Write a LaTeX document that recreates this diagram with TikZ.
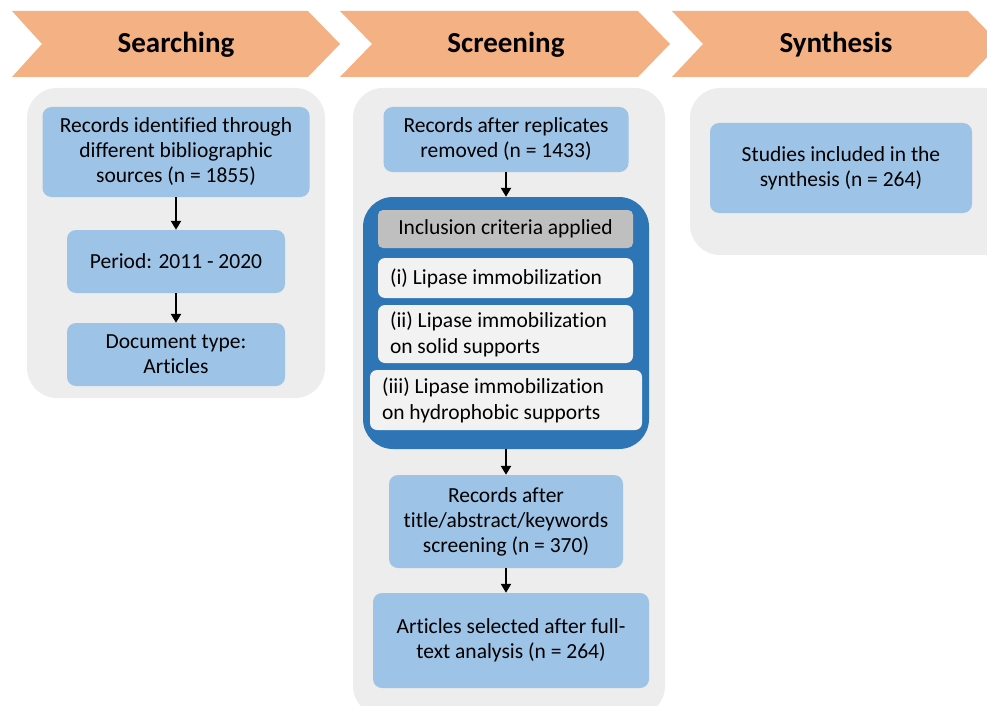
\documentclass[tikz,border=0pt]{standalone}
\usepackage{fontspec}
\setmainfont{Carlito}[Ligatures=NoCommon]
\usetikzlibrary{arrows.meta}
\definecolor{chev}{HTML}{F4B183}
\definecolor{panel}{HTML}{EDEDED}
\definecolor{lblue}{HTML}{9DC3E6}
\definecolor{dblue}{HTML}{2E75B6}
\definecolor{hgray}{HTML}{BFBFBF}
\definecolor{crit}{HTML}{F2F2F2}
\tikzset{
  chevron/.style={fill=chev, draw=none},
  paneltitle/.style={font=\fontsize{29}{31}\selectfont\bfseries, text=black},
  panelbg/.style={fill=panel, draw=none, rounded corners=30pt},
  bluebox/.style={fill=lblue, draw=none, rounded corners=9pt, align=center,
    font=\fontsize{21.5}{25}\selectfont, inner sep=0pt},
  critbox/.style={fill=crit, draw=none, rounded corners=7pt, align=flush left,
    font=\fontsize{21.5}{26}\selectfont, inner xsep=12pt, inner ysep=0pt},
  headbox/.style={fill=hgray, draw=none, rounded corners=5pt, align=center,
    font=\fontsize{21.5}{25}\selectfont, inner sep=0pt},
  darkbox/.style={fill=dblue, draw=none, rounded corners=30pt, inner sep=0pt},
  flow/.style={-{Triangle[length=9pt,width=10pt]}, line width=2.2pt, black}
}
\begin{document}
\begin{tikzpicture}[x=1pt,y=-1pt]
\useasboundingbox (0,0) rectangle (987,706);
\begin{scope}
\clip (0,0) rectangle (987,706);
% chevrons
\fill[chevron] (12,11) -- (308,11) -- (340,44) -- (308,77) -- (12,77) -- (42,44) -- cycle;
\fill[chevron] (340,11) -- (638,11) -- (670,44) -- (638,77) -- (340,77) -- (372,44) -- cycle;
\fill[chevron] (672,11) -- (968,11) -- (1000,44) -- (968,77) -- (672,77) -- (703,44) -- cycle;
% panels
\fill[panelbg] (27,88) rectangle (325,398);
\fill[panelbg] (353,88) rectangle (665,716);
\fill[panelbg] (690,88) rectangle (1020,255);
\end{scope}
\node[paneltitle] (t1) at (176,45) {Searching};
\node[paneltitle] (t2) at (506,45) {Screening};
\node[paneltitle] (t3) at (836,45) {Synthesis};
% Searching column
\node[bluebox, minimum width=267pt, minimum height=90pt] (s1) at (176,152)
  {Records identified through\\different bibliographic\\sources (n = 1855)};
\node[bluebox, minimum width=218pt, minimum height=63pt] (s2) at (176,261.5)
  {Period: 2011 - 2020};
\node[bluebox, minimum width=218pt, minimum height=63pt] (s3) at (176,354.5)
  {Document type:\\Articles};
\draw[flow] (s1.south) -- (s2.north);
\draw[flow] (s2.south) -- (s3.north);
% Screening column
\node[bluebox, minimum width=245pt, minimum height=65pt] (r1) at (506,139.5)
  {Records after replicates\\removed (n = 1433)};
\node[darkbox, minimum width=286pt, minimum height=252pt] (dk) at (506,323) {};
\node[headbox, minimum width=255pt, minimum height=38pt] (hd) at (505.5,229)
  {Inclusion criteria applied};
\node[critbox, text width=231pt, minimum height=40pt] (c1) at (505.5,278)
  {(i) Lipase immobilization};
\node[critbox, text width=231pt, minimum height=58pt] (c2) at (505.5,334)
  {(ii) Lipase immobilization\\on solid supports};
\node[critbox, text width=248pt, minimum height=60pt] (c3) at (506,400)
  {(iii) Lipase immobilization\\on hydrophobic supports};
\node[bluebox, minimum width=234pt, minimum height=93pt] (r2) at (506,521.5)
  {Records after\\title/abstract/keywords\\screening (n = 370)};
\node[bluebox, minimum width=276pt, minimum height=95pt] (r3) at (511,640.5)
  {Articles selected after full-\\text analysis (n = 264)};
\draw[flow] (r1.south) -- (dk.north);
\draw[flow] (dk.south) -- (r2.north);
\draw[flow] (r2.south) -- (r3.north -| r2.south);
% Synthesis column
\node[bluebox, minimum width=262pt, minimum height=90pt] (y1) at (841,168)
  {Studies included in the\\synthesis (n = 264)};
\end{tikzpicture}
\end{document}
